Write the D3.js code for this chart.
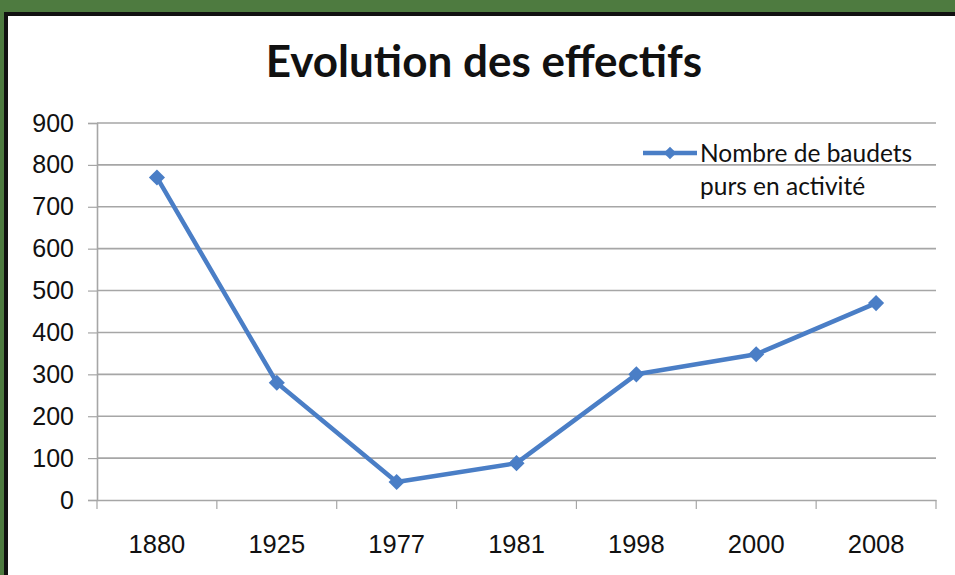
<!DOCTYPE html>
<html><head><meta charset="utf-8">
<script src="https://cdn.jsdelivr.net/npm/d3@7"></script>
<style>body{margin:0;background:#fff}svg{display:block}</style>
</head><body>
<script>
const categories = ["1880","1925","1977","1981","1998","2000","2008"];
const values = [770, 280, 43, 88, 300, 348, 470];
const yTicks = [0,100,200,300,400,500,600,700,800,900];
const title = "Evolution des effectifs";
const legendLines = ["Nombre de baudets","purs en activité"];

const W=955,H=575;
const svg=d3.select("body").append("svg").attr("width",W).attr("height",H);
// frame
svg.append("rect").attr("x",0).attr("y",0).attr("width",W).attr("height",H).attr("fill","#4e7b40");
svg.append("rect").attr("x",4).attr("y",12).attr("width",W).attr("height",H).attr("fill","#111");
svg.append("rect").attr("x",8).attr("y",16).attr("width",W).attr("height",H).attr("fill","#fff");

const m={l:97,r:936,t:123,b:500};
const x=d3.scaleBand().domain(categories).range([m.l,m.r]);
const y=d3.scaleLinear().domain([0,900]).range([m.b,m.t]);
const numFont="Liberation Sans, Arial, sans-serif";

// gridlines
svg.append("g").selectAll("line").data(yTicks.filter(d=>d>0)).join("line")
 .attr("x1",m.l).attr("x2",m.r).attr("y1",d=>y(d)).attr("y2",d=>y(d))
 .attr("stroke","#a6a6a6").attr("stroke-width",1.6);

// y axis
const ya=svg.append("g").attr("transform",`translate(${m.l},0)`)
 .call(d3.axisLeft(y).tickValues(yTicks).tickSize(9).tickPadding(14));
ya.select(".domain").attr("stroke","#a6a6a6").attr("stroke-width",1.6);
ya.selectAll(".tick line").attr("stroke","#a6a6a6").attr("stroke-width",1.2);
ya.selectAll("text").attr("font-family",numFont).attr("font-size",25).attr("fill","#111");

// x axis
const xa=svg.append("g").attr("transform",`translate(0,${m.b})`)
 .call(d3.axisBottom(x).tickSize(0).tickPadding(35));
xa.select(".domain").attr("stroke","#a6a6a6").attr("stroke-width",1.6);
xa.selectAll("text").attr("font-family",numFont).attr("font-size",25.5).attr("fill","#111");
// boundary ticks
const bounds=categories.map(c=>x(c)).concat([x(categories[categories.length-1])+x.bandwidth()]);
svg.append("g").selectAll("line").data(bounds).join("line")
 .attr("x1",d=>d).attr("x2",d=>d).attr("y1",m.b).attr("y2",m.b+9)
 .attr("stroke","#a6a6a6").attr("stroke-width",1.2);

// line
const cx=c=>x(c)+x.bandwidth()/2;
const blue="#4a7ec6";
svg.append("path").datum(values)
 .attr("d",d3.line().x((d,i)=>cx(categories[i])).y(d=>y(d)))
 .attr("fill","none").attr("stroke",blue).attr("stroke-width",4.5).attr("stroke-linejoin","round");
const diamond=d3.symbol().type(d3.symbolSquare).size(130);
svg.append("g").selectAll("path").data(values).join("path")
 .attr("d",diamond).attr("fill",blue)
 .attr("transform",(d,i)=>`translate(${cx(categories[i])},${y(d)}) rotate(45)`);

// title
svg.append("text").attr("x",484).attr("y",77).attr("text-anchor","middle")
 .attr("font-family","Lato, Open Sans, sans-serif").attr("font-weight","bold").attr("font-size",44).attr("fill","#111").text(title);

// legend
svg.append("line").attr("x1",643).attr("x2",697).attr("y1",153).attr("y2",153).attr("stroke",blue).attr("stroke-width",4.5);
svg.append("path").attr("d",d3.symbol().type(d3.symbolSquare).size(80)).attr("fill",blue)
 .attr("transform","translate(670,153) rotate(45)");
svg.append("g").selectAll("text").data(legendLines).join("text")
 .attr("x",700).attr("y",(d,i)=>162+i*33)
 .attr("font-family","Lato, Open Sans, sans-serif").attr("font-size",24.5).attr("fill","#111").text(d=>d);
</script>
</body></html>
